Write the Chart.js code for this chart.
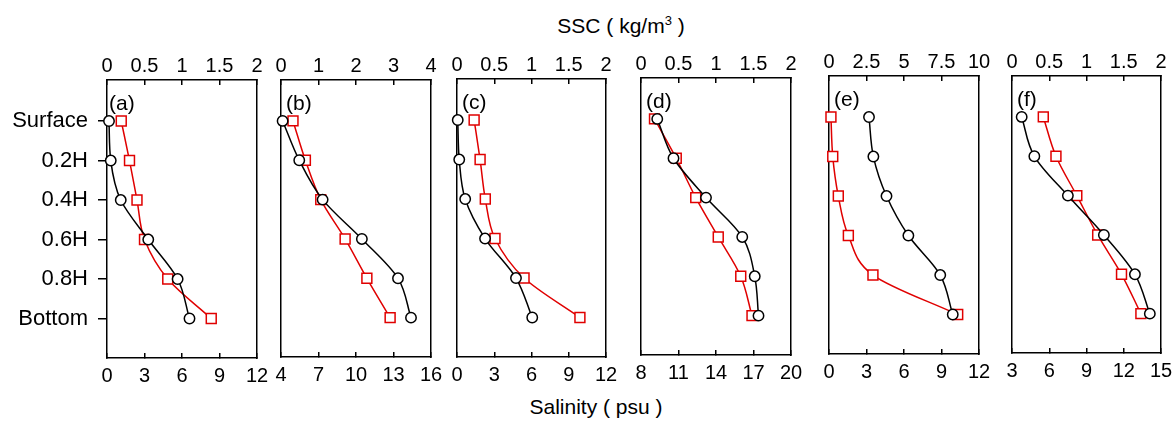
<!DOCTYPE html>
<html>
<head>
<meta charset="utf-8">
<script src="https://cdn.jsdelivr.net/npm/chart.js@4.4.1/dist/chart.umd.min.js"></script>
<style>
  html, body { margin: 0; padding: 0; background: #fff; }
  #wrap { position: relative; width: 1174px; height: 421px; overflow: hidden;
          font-family: 'Liberation Sans', Arial, sans-serif; color: #000; }
  .panel { position: absolute; top: 0; height: 421px; }
  .tag { position: absolute; font-size: 21px; line-height: 21px; }
  .title { position: absolute; font-size: 21px; line-height: 21px; white-space: nowrap;
           transform: translateX(-50%); }
  .title sup { font-size: 13px; line-height: 0; vertical-align: 8px; }
</style>
</head>
<body>
<div id="wrap">
  <div class="title" style="left:621px; top:15px;">SSC ( kg/m<sup>3</sup> )</div>
  <div class="title" style="left:596px; top:396px;">Salinity ( psu )</div>
</div>
<script>
// depth levels (y) and panel names
const depths = ['Surface', '0.2H', '0.4H', '0.6H', '0.8H', 'Bottom'];
const panelTags = ['(a)', '(b)', '(c)', '(d)', '(e)', '(f)'];

// top axis (SSC) and bottom axis (salinity) ranges
const sscMax = [2, 4, 2, 2, 10, 2];
const sscStep = [0.5, 1, 0.5, 0.5, 2.5, 0.5];
const salMin = [0, 4, 0, 8, 0, 3];
const salMax = [12, 16, 12, 20, 12, 15];
const salStep = 3;

// red squares - SSC (kg/m3), surface -> bottom
const sscA = [0.19, 0.30, 0.40, 0.50, 0.81, 1.39];
const sscB = [0.32, 0.65, 1.06, 1.71, 2.29, 2.91];
const sscC = [0.23, 0.31, 0.38, 0.51, 0.90, 1.65];
const sscD = [0.18, 0.47, 0.73, 1.03, 1.33, 1.48];
const sscE = [0.13, 0.25, 0.62, 1.29, 2.93, 8.58];
const sscF = [0.42, 0.59, 0.87, 1.15, 1.47, 1.73];

// black circles - salinity (psu), surface -> bottom
const salA = [0.16, 0.30, 1.10, 3.30, 5.65, 6.60];
const salB = [4.13, 5.46, 7.33, 10.47, 13.36, 14.40];
const salC = [0.06, 0.18, 0.66, 2.26, 4.75, 6.06];
const salD = [9.30, 10.60, 13.20, 16.10, 17.10, 17.40];
const salE = [3.20, 3.55, 4.60, 6.35, 8.90, 9.90];
const salF = [3.78, 4.80, 7.50, 10.40, 12.90, 14.10];

const sscPanels = [sscA, sscB, sscC, sscD, sscE, sscF];
const salPanels = [salA, salB, salC, salD, salE, salF];

// panel boxes on the page
const boxLeft = [107, 281, 457, 641, 829, 1012];
const boxW = [150, 150, 149, 150, 150, 149];
const boxTop = [80, 80, 79, 78, 76, 76];
const boxBot = [358, 357, 357, 355, 354, 353];

const FONT = "'Liberation Sans', Arial, sans-serif";
const wrap = document.getElementById('wrap');
const pad = 24;

function plainNum(v) { return String(Math.round(v * 100) / 100); }

panelTags.forEach(function(tag, i) {
  const div = document.createElement('div');
  div.className = 'panel';
  const leftSpace = i === 0 ? boxLeft[0] : pad;
  div.style.left = (boxLeft[i] - leftSpace) + 'px';
  div.style.width = (leftSpace + boxW[i] + pad) + 'px';
  const cv = document.createElement('canvas');
  div.appendChild(cv);
  wrap.appendChild(div);

  const frame = { display: true, color: '#000', width: 1.5 };

  new Chart(cv.getContext('2d'), {
    type: 'line',
    data: {
      datasets: [{
        label: 'Salinity',
        data: salPanels[i].map(function(v, k) { return { x: v, y: k }; }),
        xAxisID: 'x',
        yAxisID: 'y',
        borderColor: '#000',
        borderWidth: 1.5,
        pointStyle: 'circle',
        pointRadius: 5.2,
        pointBorderWidth: 1.5,
        pointBorderColor: '#000',
        pointBackgroundColor: '#fff',
        cubicInterpolationMode: 'monotone',
        fill: false,
        clip: false
      }, {
        label: 'SSC',
        data: sscPanels[i].map(function(v, k) { return { x: v, y: k }; }),
        xAxisID: 'x2',
        yAxisID: 'y',
        borderColor: '#e00000',
        borderWidth: 1.5,
        pointStyle: 'rect',
        pointRadius: 7,
        pointBorderWidth: 1.5,
        pointBorderColor: '#e00000',
        pointBackgroundColor: '#fff',
        cubicInterpolationMode: 'monotone',
        fill: false,
        clip: false
      }]
    },
    options: {
      indexAxis: 'y',
      responsive: true,
      maintainAspectRatio: false,
      animation: false,
      layout: { padding: { left: i === 0 ? 0 : pad, right: pad, top: 0, bottom: 0 } },
      plugins: { legend: { display: false }, tooltip: { enabled: false } },
      scales: {
        x2: {
          type: 'linear', axis: 'x', position: 'top',
          min: 0, max: sscMax[i],
          ticks: { stepSize: sscStep[i], autoSkip: false, maxRotation: 0, padding: 7,
                   color: '#000', font: { size: 20, family: FONT }, callback: plainNum },
          grid: { drawOnChartArea: false, drawTicks: true, tickLength: -5, color: '#000', lineWidth: 1.5 },
          border: frame,
          afterFit: function(s) { s.height = boxTop[i]; }
        },
        x: {
          type: 'linear', axis: 'x', position: 'bottom',
          min: salMin[i], max: salMax[i],
          ticks: { stepSize: salStep, autoSkip: false, maxRotation: 0, padding: 11,
                   color: '#000', font: { size: 20, family: FONT }, callback: plainNum },
          grid: { drawOnChartArea: false, drawTicks: true, tickLength: -5, color: '#000', lineWidth: 1.5 },
          border: frame,
          afterFit: function(s) { s.height = 421 - boxBot[i]; }
        },
        y: {
          type: 'linear', position: 'left', reverse: true,
          min: -1.04, max: 6,
          afterBuildTicks: function(s) { s.ticks = depths.map(function(d, k) { return { value: k }; }); },
          ticks: { display: i === 0, padding: 10, color: '#000', font: { size: 22, family: FONT },
                   callback: function(v) { return depths[v]; } },
          grid: { drawOnChartArea: false, drawTicks: i === 0, tickLength: 9, color: '#000', lineWidth: 1.5 },
          border: frame,
          afterFit: function(s) { s.width = i === 0 ? boxLeft[0] : 0; }
        },
        yr: {
          type: 'linear', position: 'right', min: -1.04, max: 6,
          ticks: { display: false },
          grid: { display: false },
          border: frame,
          afterFit: function(s) { s.width = 0; }
        }
      }
    }
  });

  const t = document.createElement('div');
  t.className = 'tag';
  t.textContent = tag;
  t.style.left = (boxLeft[i] + (i === 0 ? 2 : 5)) + 'px';
  t.style.top = (boxTop[i] + 12) + 'px';
  wrap.appendChild(t);
});
</script>
</body>
</html>
